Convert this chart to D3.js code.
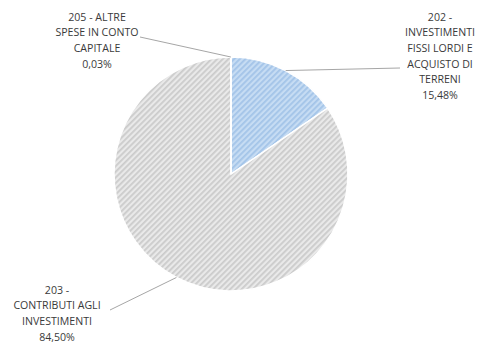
<!DOCTYPE html>
<html><head><meta charset="utf-8">
<script src="https://cdn.jsdelivr.net/npm/d3@7"></script>
<style>html,body{margin:0;padding:0;background:#fff;}svg{display:block;}</style>
</head><body>
<script>
const categories = ["202 - INVESTIMENTI FISSI LORDI E ACQUISTO DI TERRENI", "203 - CONTRIBUTI AGLI INVESTIMENTI", "205 - ALTRE SPESE IN CONTO CAPITALE"];
const values = [15.48, 84.50, 0.03];
const labelLines = [
  ["202 -", "INVESTIMENTI", "FISSI LORDI E", "ACQUISTO DI", "TERRENI"],
  ["203 -", "CONTRIBUTI AGLI", "INVESTIMENTI"],
  ["205 - ALTRE", "SPESE IN CONTO", "CAPITALE"]
];
const percentLabels = ["15,48%", "84,50%", "0,03%"];

const W = 481, H = 345;
const cx = 231, cy = 174, R = 117;
const svg = d3.select("body").append("svg").attr("width", W).attr("height", H);
const defs = svg.append("defs");
const pats = [
  {id: "pBlue", base: "#c6dcf3", stripe: "#a3c4e8"},
  {id: "pGrey", base: "#e9e9e9", stripe: "#cbcbcb"},
  {id: "pGrey2", base: "#e9e9e9", stripe: "#cbcbcb"}
];
pats.forEach(p => {
  const pt = defs.append("pattern").attr("id", p.id).attr("patternUnits", "userSpaceOnUse")
    .attr("width", 4).attr("height", 4).attr("patternTransform", "rotate(45)");
  pt.append("rect").attr("width", 4).attr("height", 4).attr("fill", p.base);
  pt.append("rect").attr("width", 1.8).attr("height", 4).attr("fill", p.stripe);
});

const pie = d3.pie().sort(null).value(d => d)(values);
const arc = d3.arc().innerRadius(0).outerRadius(R);
const g = svg.append("g").attr("transform", `translate(${cx},${cy})`);
g.selectAll("path").data(pie).enter().append("path")
  .attr("d", arc)
  .attr("fill", (d, i) => `url(#${pats[i].id})`)
  .attr("stroke", "#fff").attr("stroke-width", 1.5);

// label layouts: [center x, first line center y, leader end x, leader end y]
const labelPos = [
  {x: 440, y: 17, ex: 400, ey: 68},
  {x: 57, y: 290, ex: 110, ey: 310},
  {x: 97, y: 17, ex: 140, ey: 37}
];
const lineH = 15.6;
pie.forEach((d, i) => {
  const mid = (d.startAngle + d.endAngle) / 2;
  const sx = cx + Math.sin(mid) * R, sy = cy - Math.cos(mid) * R;
  const lp = labelPos[i];
  svg.append("line").attr("x1", sx).attr("y1", sy).attr("x2", lp.ex).attr("y2", lp.ey)
    .attr("stroke", "#a6a6a6").attr("stroke-width", 1);
  const lines = labelLines[i].concat([percentLabels[i]]);
  const t = svg.append("text").attr("text-anchor", "middle")
    .attr("font-family", "'Open Sans', 'Liberation Sans', sans-serif").attr("font-size", 10.6)
    .attr("fill", "#3a3a3a");
  lines.forEach((ln, k) => {
    t.append("tspan").attr("x", lp.x).attr("y", lp.y + k * lineH + 3.8).text(ln);
  });
});
</script>
</body></html>
